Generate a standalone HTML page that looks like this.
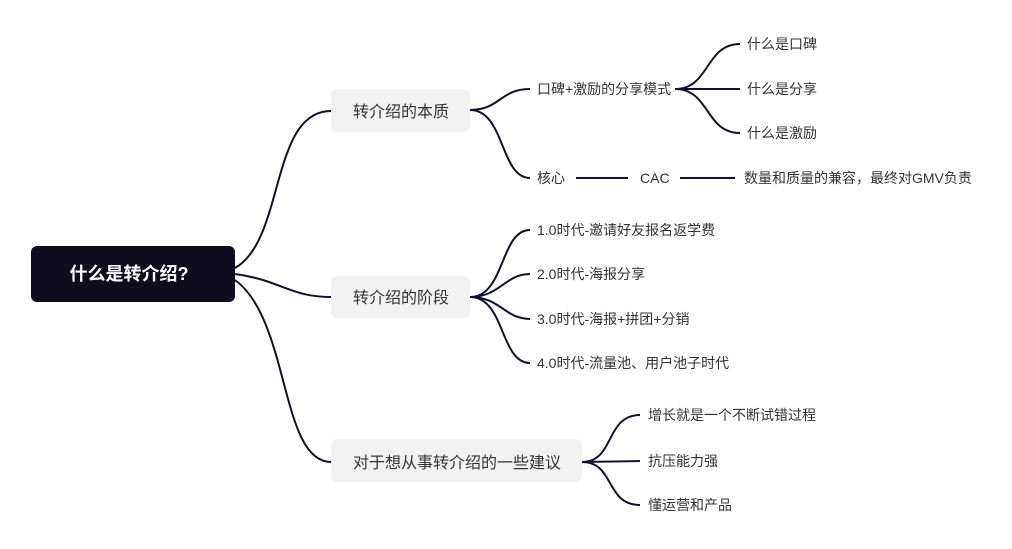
<!DOCTYPE html>
<html><head><meta charset="utf-8"><style>
html,body{margin:0;padding:0;background:#fff;width:1012px;height:549px;overflow:hidden}
text{font-family:"Liberation Sans","Noto Sans CJK SC",sans-serif;fill:#333}
</style></head><body>
<svg width="1012" height="549" xmlns="http://www.w3.org/2000/svg">
<g fill="none" stroke="#13112a" stroke-width="2">
<path d="M235,268 C285,240 270,111 331,111"/>
<path d="M235,274 C280,280 290,297 331,297"/>
<path d="M235,280 C290,320 280,462 331,462"/>
<path d="M470,110 C500,110 500,89 530,89"/>
<path d="M470,110 C505,110 500,178 530,178"/>
<path d="M675,89 C710,89 705,44 740,44"/>
<path d="M675,89 L740,89"/>
<path d="M675,89 C710,89 705,133 740,133"/>
<path d="M576,178 L628,178"/>
<path d="M680,178 L735,178"/>
<path d="M470,297 C505,297 500,230 530,230"/>
<path d="M470,297 C500,297 505,274 530,274"/>
<path d="M470,297 C500,297 505,319 530,319"/>
<path d="M470,297 C505,297 500,363 530,363"/>
<path d="M582,462 C615,462 605,415 640,415"/>
<path d="M582,462 L640,461"/>
<path d="M582,462 C615,462 605,505 640,505"/>
</g>
<rect x="31" y="246" width="204" height="56" rx="6" fill="#0f0c20"/>
<text x="129" y="280" text-anchor="middle" font-size="18" font-weight="bold" style="fill:#fff">什么是转介绍?</text>
<rect x="331" y="89" width="139" height="43" rx="6" fill="#f2f2f2"/>
<text x="401" y="117" text-anchor="middle" font-size="16">转介绍的本质</text>
<rect x="331" y="276" width="139" height="42" rx="6" fill="#f2f2f2"/>
<text x="401" y="303" text-anchor="middle" font-size="16">转介绍的阶段</text>
<rect x="331" y="439" width="251" height="43" rx="6" fill="#f2f2f2"/>
<text x="457" y="468" text-anchor="middle" font-size="16">对于想从事转介绍的一些建议</text>
<g font-size="14">
<text x="537" y="94">口碑+激励的分享模式</text>
<text x="747" y="49">什么是口碑</text>
<text x="747" y="94">什么是分享</text>
<text x="747" y="138">什么是激励</text>
<text x="537" y="183">核心</text>
<text x="640" y="183">CAC</text>
<text x="744" y="183">数量和质量的兼容，最终对GMV负责</text>
<text x="537" y="235">1.0时代-邀请好友报名返学费</text>
<text x="537" y="279">2.0时代-海报分享</text>
<text x="537" y="324">3.0时代-海报+拼团+分销</text>
<text x="537" y="368">4.0时代-流量池、用户池子时代</text>
<text x="648" y="420">增长就是一个不断试错过程</text>
<text x="648" y="466">抗压能力强</text>
<text x="648" y="510">懂运营和产品</text>
</g>
</svg>
</body></html>
